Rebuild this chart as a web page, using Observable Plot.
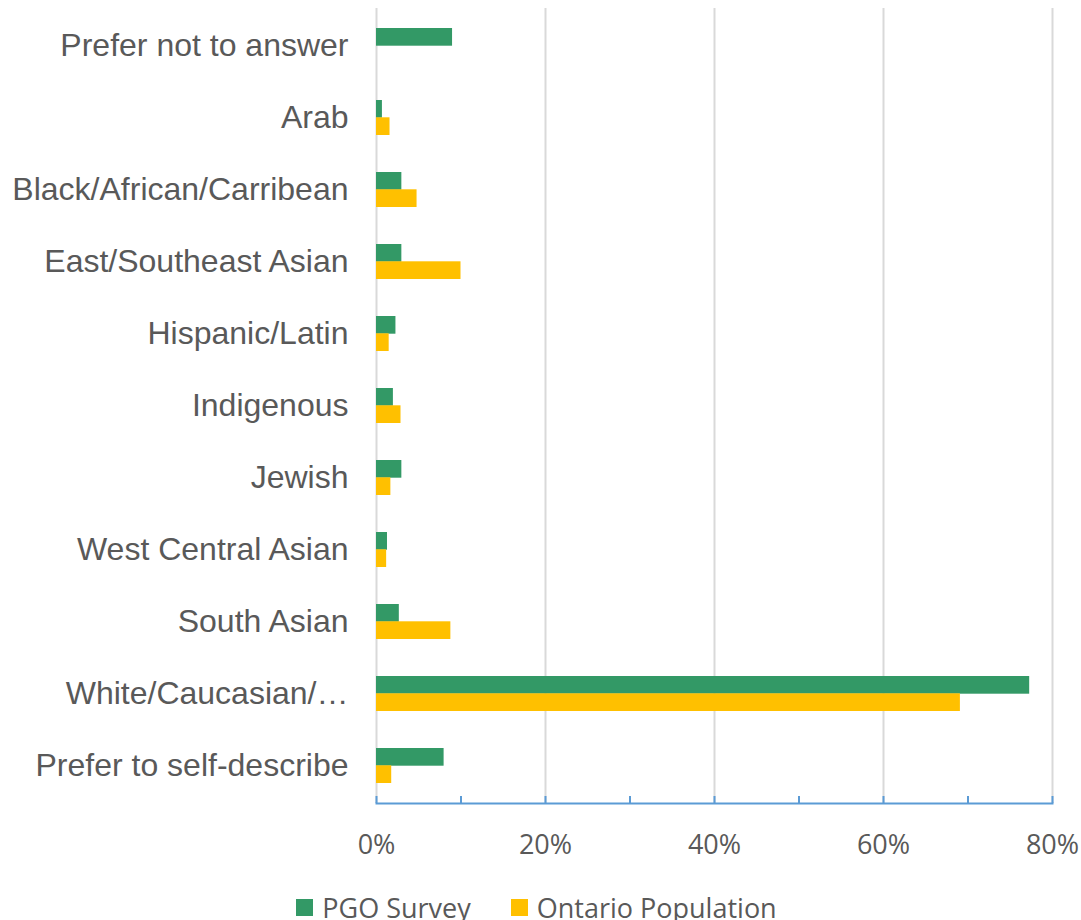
<!DOCTYPE html>
<html>
<head>
<meta charset="utf-8">
<script src="https://cdn.jsdelivr.net/npm/d3@7"></script>
<script src="https://cdn.jsdelivr.net/npm/@observablehq/plot@0.6"></script>
<style>
  html, body { margin: 0; padding: 0; background: #fff; }
  #chart svg { display: block; }
  .legend { display: flex; justify-content: center; align-items: center; height: 40px; padding-top: 19px; padding-right: 8px;
    font-family: "Open Sans", sans-serif; font-size: 27px; color: #595959; white-space: nowrap; }
  .legend .item { display: flex; align-items: center; }
  .legend .sw { width: 17px; height: 17px; margin-right: 9px; }
  .legend .item + .item { margin-left: 40px; }
</style>
</head>
<body>
<div id="chart"></div>
<script>
const categories = [
  "Prefer not to answer",
  "Arab",
  "Black/African/Carribean",
  "East/Southeast Asian",
  "Hispanic/Latin",
  "Indigenous",
  "Jewish",
  "West Central Asian",
  "South Asian",
  "White/Caucasian/…",
  "Prefer to self-describe"
];
const seriesNames = ["PGO Survey", "Ontario Population"];
const pgoSurvey = [9.0, 0.7, 3.0, 3.0, 2.3, 2.0, 3.0, 1.3, 2.7, 77.3, 8.0];
const ontarioPopulation = [null, 1.6, 4.8, 10.0, 1.5, 2.9, 1.7, 1.2, 8.8, 69.1, 1.8];
const tickValues = [0, 10, 20, 30, 40, 50, 60, 70, 80];
const gridValues = [0, 20, 40, 60, 80];
const seriesColors = ["#339966", "#FFC000"];

const rows = [];
categories.forEach((c, i) => {
  rows.push({category: c, series: seriesNames[0], value: pgoSurvey[i]});
  if (ontarioPopulation[i] != null) rows.push({category: c, series: seriesNames[1], value: ontarioPopulation[i]});
});

const half = 17.3;
const chart = Plot.plot({
  width: 1081,
  height: 868,
  marginLeft: 376,
  marginRight: 29,
  marginTop: 8,
  marginBottom: 65,
  style: {background: "#fff"},
  x: {domain: [0, 80], axis: null},
  y: {domain: categories, paddingInner: 0.52, paddingOuter: 0.26, axis: null},
  color: {domain: seriesNames, range: seriesColors},
  marks: [
    Plot.ruleX(gridValues, {stroke: "#d9d9d9", strokeWidth: 2}),
    Plot.barX(rows.filter(d => d.series === seriesNames[0]), {x: "value", y: "category", fill: "series", insetBottom: half}),
    Plot.barX(rows.filter(d => d.series === seriesNames[1]), {x: "value", y: "category", fill: "series", insetTop: half}),
    Plot.frame({anchor: "bottom", stroke: "#5b9bd5", strokeWidth: 2}),
    Plot.axisX({ticks: tickValues, tickSize: -7, tickFormat: () => "", label: null, stroke: "#5b9bd5", strokeWidth: 2, strokeOpacity: 1}),
    Plot.axisX({ticks: gridValues, tickSize: 0, tickPadding: 31, tickFormat: d => d + "%", label: null, fontSize: 27, fontFamily: "Open Sans", color: "#595959"}),
    Plot.axisY({tickSize: 0, tickPadding: 28, label: null, fontSize: 32, fontFamily: "Liberation Sans", color: "#595959"})
  ]
});
document.getElementById("chart").appendChild(chart);

const legend = document.createElement("div");
legend.className = "legend";
seriesNames.forEach((s, i) => {
  const item = document.createElement("div");
  item.className = "item";
  const sw = document.createElement("span");
  sw.className = "sw";
  sw.style.background = seriesColors[i];
  const t = document.createElement("span");
  t.textContent = s;
  item.appendChild(sw);
  item.appendChild(t);
  legend.appendChild(item);
});
document.body.appendChild(legend);
</script>
</body>
</html>
